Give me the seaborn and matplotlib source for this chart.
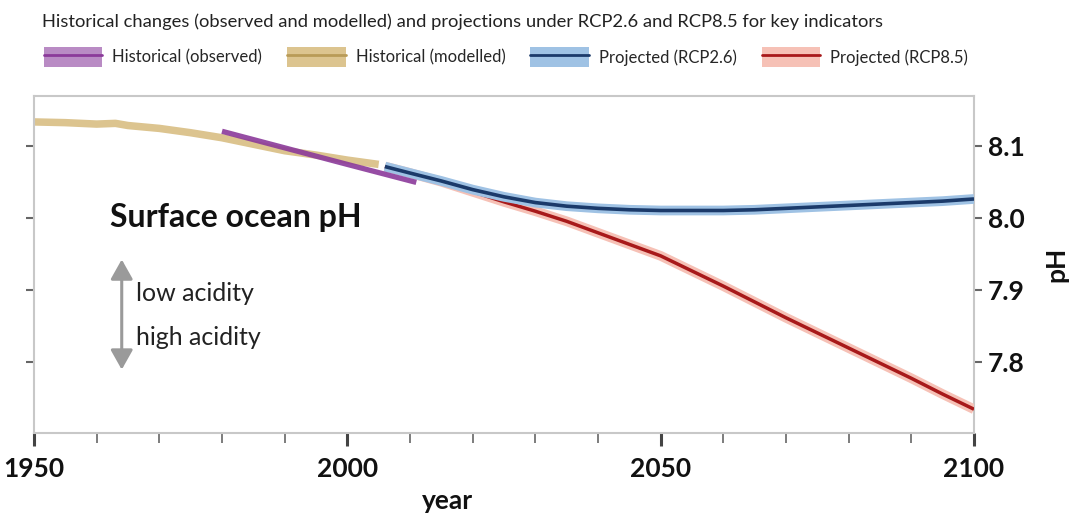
import matplotlib
matplotlib.use("Agg")
import matplotlib.pyplot as plt
from matplotlib.patches import Patch
from matplotlib.lines import Line2D
from matplotlib.ticker import MultipleLocator, FixedLocator
import seaborn as sns

# values
mod_years = [1950, 1955, 1960, 1963, 1965, 1970, 1975, 1980, 1985, 1990, 1995, 2000, 2005]
mod_ph = [8.133, 8.132, 8.130, 8.131, 8.128, 8.124, 8.118, 8.111, 8.102, 8.093, 8.087, 8.080, 8.074]

obs_years = [1980, 1990, 2000, 2011]
obs_ph = [8.120, 8.097, 8.074, 8.049]

proj_years = [2006, 2010, 2015, 2020, 2025, 2030, 2035, 2040, 2045, 2050,
              2055, 2060, 2065, 2070, 2075, 2080, 2085, 2090, 2095, 2100]
rcp26_ph = [8.071, 8.062, 8.051, 8.039, 8.029, 8.021, 8.016, 8.013, 8.011, 8.010,
            8.010, 8.010, 8.011, 8.013, 8.015, 8.017, 8.019, 8.021, 8.023, 8.026]
rcp85_ph = [8.071, 8.062, 8.050, 8.036, 8.022, 8.009, 7.995, 7.979, 7.963, 7.947,
            7.926, 7.905, 7.883, 7.861, 7.840, 7.819, 7.798, 7.777, 7.755, 7.734]

x_major = [1950, 2000, 2050, 2100]
y_ticks = [7.8, 7.9, 8.0, 8.1]

legend_labels = ["Historical (observed)", "Historical (modelled)",
                 "Projected (RCP2.6)", "Projected (RCP8.5)"]

# colours: (band, line)
c_obs = ("#b98bc4", "#8b3a9a")
c_mod = ("#dcc48f", "#b99b57")
c_26 = ("#9fc2e4", "#1b3a6a")
c_85 = ("#f6c1b6", "#a8191a")

sns.set_theme(style="white")
plt.rcParams['font.family'] = ['Lato', 'DejaVu Sans']

fig = plt.figure(figsize=(10.9, 5.13), dpi=100)
ax = fig.add_axes([34 / 1090, 80 / 513, 940 / 1090, 337 / 513])

# historical modelled ribbon
sns.lineplot(x=mod_years, y=mod_ph, ax=ax, color=c_mod[0], lw=5.4,
             solid_capstyle='butt', zorder=2)

# projections: wide pale band + dark centre line
sns.lineplot(x=proj_years, y=rcp85_ph, ax=ax, color=c_85[0], lw=7,
             solid_capstyle='butt', zorder=3)
sns.lineplot(x=proj_years, y=rcp85_ph, ax=ax, color=c_85[1], lw=2.5,
             solid_capstyle='butt', zorder=4)
sns.lineplot(x=proj_years, y=rcp26_ph, ax=ax, color=c_26[0], lw=7,
             solid_capstyle='butt', zorder=5)
sns.lineplot(x=proj_years, y=rcp26_ph, ax=ax, color=c_26[1], lw=2.6,
             solid_capstyle='butt', zorder=6)

# observed
sns.lineplot(x=obs_years, y=obs_ph, ax=ax, color=c_obs[1], lw=3.8,
             solid_capstyle='butt', alpha=0.9, zorder=7)

ax.set_xlim(1950, 2100)
ax.set_ylim(7.701, 8.169)

# axes styling
for s in ax.spines.values():
    s.set_color('#c8c8c8')
    s.set_linewidth(1.5)

ax.xaxis.set_major_locator(FixedLocator(x_major))
ax.xaxis.set_minor_locator(MultipleLocator(10))
ax.set_xticklabels([str(v) for v in x_major])
ax.set_yticks(y_ticks)
ax.set_yticklabels([f"{v:.1f}" for v in y_ticks])

ax.tick_params(axis='x', which='major', bottom=True, direction='out', length=9,
               width=2.2, color='#444444', labelsize=19, pad=8)
ax.tick_params(axis='x', which='minor', bottom=True, direction='out', length=7,
               width=1.2, color='#666666')
ax.tick_params(axis='y', which='major', left=True, right=True, labelleft=False,
               labelright=True, direction='out', length=6, width=1.5,
               color='#666666', labelsize=19, pad=4)
for lab in ax.get_xticklabels() + ax.get_yticklabels():
    lab.set_fontweight('bold')
    lab.set_color('#111111')

ax.set_xlabel("year", fontsize=19, fontweight='bold', color='#111111')
ax.xaxis.set_label_coords(0.44, -0.165)
ax.yaxis.set_label_position('right')
ax.set_ylabel("pH", fontsize=19, fontweight='bold', color='#111111', labelpad=14)

# annotations inside the panel
ax.text(0.081, 0.638, "Surface ocean pH", transform=ax.transAxes, fontsize=23,
        fontweight='bold', color='#111111', va='center', ha='left')
ax.text(0.109, 0.413, "low acidity", transform=ax.transAxes, fontsize=18,
        color='#222222', va='center', ha='left')
ax.text(0.109, 0.284, "high acidity", transform=ax.transAxes, fontsize=18,
        color='#222222', va='center', ha='left')
ax.annotate('', xy=(1964, 7.789), xytext=(1964, 7.942),
            arrowprops=dict(arrowstyle='<|-|>,head_length=0.8,head_width=0.45',
                            color='#9a9a9a', lw=2.2, mutation_scale=15,
                            shrinkA=0, shrinkB=0))

# header and legend
fig.text(42 / 1090, 1 - 22 / 513,
         "Historical changes (observed and modelled) and projections under RCP2.6 and RCP8.5 for key indicators",
         fontsize=13.2, color='#222222', va='center', ha='left')

handles = []
for band, line in (c_obs, c_mod, c_26, c_85):
    handles.append((Patch(facecolor=band, edgecolor='none'),
                    Line2D([], [], color=line, lw=2)))
fig.legend(handles, legend_labels, loc='center left',
           bbox_to_anchor=(44 / 1090, 1 - 57 / 513), bbox_transform=fig.transFigure,
           ncol=4, frameon=False, fontsize=12, handlelength=3.5, handleheight=1.5,
           handletextpad=0.6, columnspacing=1.5, borderpad=0, borderaxespad=0)

fig.savefig("out.png", dpi=100)
